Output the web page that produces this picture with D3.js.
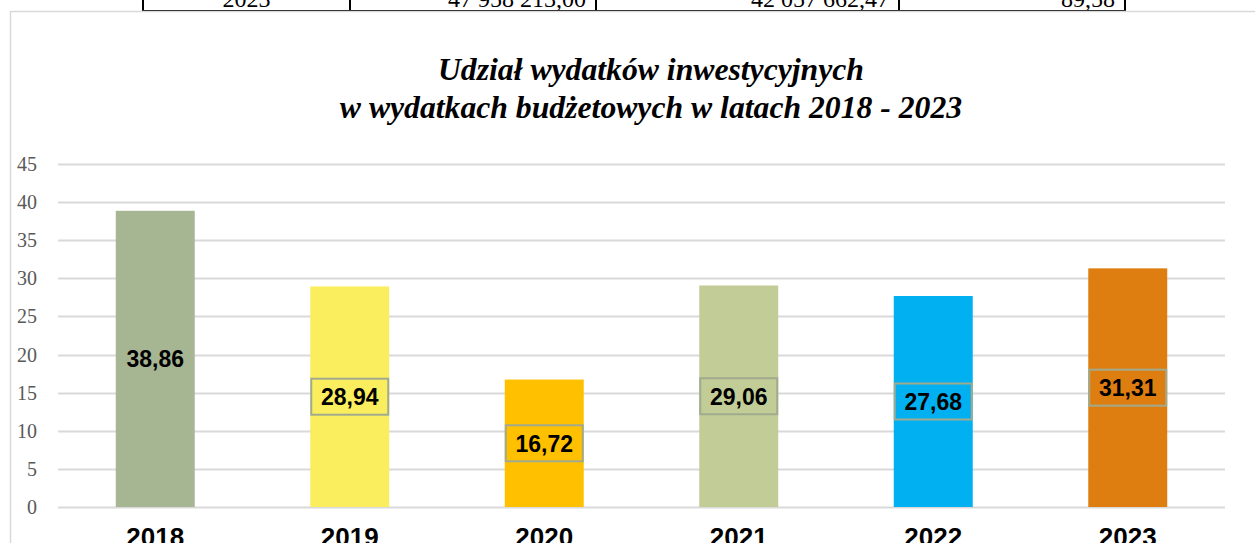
<!DOCTYPE html>
<html><head><meta charset="utf-8">
<script src="https://cdn.jsdelivr.net/npm/d3@7"></script>
<style>body{margin:0;background:#fff;overflow:hidden}svg{display:block}</style>
</head><body>
<script>
const categories = ["2018","2019","2020","2021","2022","2023"];
const values = [38.86, 28.94, 16.72, 29.06, 27.68, 31.31];
const labels = ["38,86","28,94","16,72","29,06","27,68","31,31"];
const colors = ["#A6B592","#FBEE5E","#FFC000","#C2CC96","#00B0F0","#DF7E10"];
const boxed = [false,true,true,true,true,true];
const yTicks = [0,5,10,15,20,25,30,35,40,45];
const tableRow = ["2023","47 958 213,00","42 057 662,47","89,58"];
const titleLines = ["Udział wydatków inwestycyjnych","w wydatkach budżetowych w latach 2018 - 2023"];

const W=1255,H=543;
const svg=d3.select("body").append("svg").attr("width",W).attr("height",H);

// table fragment at top
const colX=[143,350,596,899,1125];
const tg=svg.append("g");
tableRow.forEach((t,i)=>{
  const c=i===0;
  tg.append("text").attr("x",c?(colX[0]+colX[1])/2:colX[i+1]-10).attr("y",6.5)
    .attr("text-anchor",c?"middle":"end")
    .style("font-family","'Liberation Serif','Times New Roman',serif").style("font-size","24px").attr("fill","#000").text(t);
});
tg.append("line").attr("x1",colX[0]-1).attr("x2",colX[4]+1).attr("y1",11).attr("y2",11).attr("stroke","#000").attr("stroke-width",2);
colX.forEach(x=>tg.append("line").attr("x1",x).attr("x2",x).attr("y1",0).attr("y2",12).attr("stroke","#000").attr("stroke-width",2));

// chart border
svg.append("path").attr("d","M10.5,543 V11.5 H1255").attr("fill","none").attr("stroke","#D9D9D9").attr("stroke-width",1.5);

// title
const tt=svg.append("text").attr("text-anchor","middle")
  .style("font-family","'Liberation Serif','Times New Roman',serif").style("font-size","31.7px")
  .style("font-weight","bold").style("font-style","italic").attr("fill","#000");
titleLines.forEach((l,i)=>tt.append("tspan").attr("x",651).attr("y",80+i*38).text(l));

const x=d3.scaleBand().domain(categories).range([58,1225]).paddingInner(0.594).paddingOuter(0.297);
const y=d3.scaleLinear().domain([0,45]).range([507,164]);

// grid
svg.append("g").selectAll("line").data(yTicks).join("line")
  .attr("x1",58).attr("x2",1225).attr("y1",d=>Math.round(y(d))+0.5).attr("y2",d=>Math.round(y(d))+0.5)
  .attr("stroke","#D9D9D9").attr("stroke-width",2);
svg.append("g").selectAll("text").data(yTicks).join("text")
  .attr("x",37).attr("y",d=>y(d)+7).attr("text-anchor","end")
  .style("font-family","'Liberation Serif','Times New Roman',serif").style("font-size","20px")
  .attr("fill","#595959").text(d=>d);

// bars
svg.append("g").selectAll("rect").data(values).join("rect")
  .attr("x",(d,i)=>x(categories[i])).attr("width",x.bandwidth())
  .attr("y",d=>y(d)).attr("height",d=>y(0)-y(d)).attr("fill",(d,i)=>colors[i]);

// labels
const lg=svg.append("g");
values.forEach((v,i)=>{
  const cx=x(categories[i])+x.bandwidth()/2, cy=y(v/2);
  if(boxed[i]) lg.append("rect").attr("x",cx-38.5).attr("y",cy-18).attr("width",77).attr("height",36)
    .attr("fill",colors[i]).attr("stroke","#A0AA8E").attr("stroke-width",2);
  lg.append("text").attr("x",cx).attr("y",cy+8.3).attr("text-anchor","middle")
    .style("font-family","'Liberation Sans',Arial,sans-serif").style("font-size","23px").style("font-weight","bold")
    .attr("fill","#000").text(labels[i]);
});

// x labels
svg.append("g").selectAll("text").data(categories).join("text")
  .attr("x",d=>x(d)+x.bandwidth()/2).attr("y",546).attr("text-anchor","middle")
  .style("font-family","'Liberation Sans',Arial,sans-serif").style("font-size","26px").style("font-weight","bold")
  .attr("fill","#000").text(d=>d);
</script>
</body></html>
